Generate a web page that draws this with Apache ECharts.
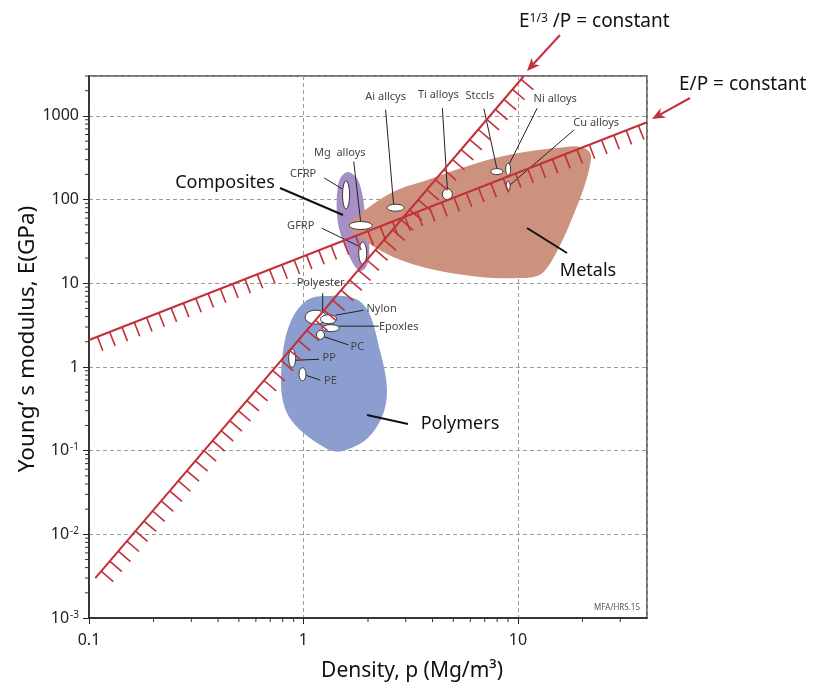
<!DOCTYPE html>
<html>
<head>
<meta charset="utf-8">
<script src="https://cdn.jsdelivr.net/npm/echarts@6/dist/echarts.min.js"></script>
<style>
  html, body { margin: 0; padding: 0; background: #fff; }
  #chart { width: 814px; height: 686px; }
</style>
</head>
<body>
<div id="chart"></div>
<script>
// axis ranges (log scales) and tick labels
const xMin = 0.1, xMax = 40;
const yMin = 0.001, yMax = 3000;
const xTickLabels = ['0.1', '1', '10'];                                        // 10^-1 .. 10^1
const yTickLabels = ['10{s|-3}', '10{s|-2}', '10{s|-1}', '1', '10', '100', '1000']; // 10^-3 .. 10^3

// material family envelopes (density Mg/m3, modulus GPa)
const compositesDensity = [1.605, 1.77, 1.87, 1.93, 1.99, 2.03, 1.99, 1.87, 1.73, 1.59, 1.47, 1.43, 1.44, 1.49];
const compositesModulus = [214, 182, 124, 75.3, 43.5, 25.1, 17.1, 14.1, 16.1, 25.1, 43.5, 75.3, 131, 182];

const metalsDensity = [1.61, 1.85, 2.64, 3.78, 5.42, 7.74, 11.1, 15.9, 19.0, 21.5, 21.9, 20.4, 18.3, 15.9, 13.8, 12.4, 9.6, 6.48, 4.06, 2.84, 2.13, 1.75];
const metalsModulus = [49, 68.8, 125, 172, 237, 312, 375, 418, 430, 375, 298, 143, 68.8, 30.1, 15.8, 12.3, 11.5, 12.0, 14.5, 19.0, 27.4, 39.7];

const polymersDensity = [1.08, 1.34, 1.66, 1.88, 2.06, 2.25, 2.42, 2.44, 2.29, 1.99, 1.66, 1.41, 1.20, 1.0, 0.854, 0.795, 0.787, 0.809, 0.854, 0.935];
const polymersModulus = [6.64, 7.07, 6.83, 5.78, 4.0, 1.75, 0.77, 0.405, 0.233, 0.141, 0.107, 0.0975, 0.117, 0.162, 0.255, 0.443, 0.843, 1.75, 3.04, 4.81];

// individual materials
const materialNames = ['CFRP', 'Mg  alloys', 'GFRP', 'Ai allcys', 'Ti alloys', 'Stccls', 'Ni alloys', 'Cu alloys',
                       'Polyester', 'Nylon', 'Epoxles', 'PC', 'PP', 'PE'];
const materialDensity = [1.58, 1.85, 1.89, 2.69, 4.69, 7.98, 9.01, 9.01, 1.14, 1.31, 1.34, 1.20, 0.886, 0.99];
const materialModulus = [114, 49, 22.9, 80, 116, 216, 231, 146, 3.94, 3.72, 2.91, 2.42, 1.27, 0.82];

// guide lines: E/p = const and E^(1/3)/p = const (end points)
const linearGuideDensity = [0.1, 40];
const linearGuideModulus = [2.1, 840];
const cubeGuideDensity = [0.107, 10.67];
const cubeGuideModulus = [0.003, 3000];

// ---- styling / layout (pixels) ----
const RED = '#C2303B';
const FONT = 'Noto Sans';
// per material: ellipse size [w,h], label offset [dx,dy], leader [x1,y1,x2,y2] relative to centre
const materialLayout = [
  { size: [7, 28],  label: [-43, -21], lead: [-22, -17, -4, -6] },   // CFRP
  { size: [23, 8],  label: [-21, -73], lead: [-7, -64, 0, -3] },     // Mg
  { size: [8, 22],  label: [-62, -27], lead: [-41, -25, -4, -7] },   // GFRP
  { size: [17, 7],  label: [-10, -111], lead: [-10, -98, -2, -3] },  // Al
  { size: [10, 11], label: [-9, -99], lead: [-5, -86, 0, -5] },      // Ti
  { size: [12, 6],  label: [-17, -76], lead: [-13, -63, 0, -3] },    // Steels
  { size: [5, 12],  label: [47, -70], lead: [29, -61, 1, -5] },      // Ni
  { size: [4, 9],   label: [88, -63], lead: [66, -56, 2, -1] },      // Cu
  { size: [21, 14], label: [5, -34], lead: [7, -24, 7, -6] },        // Polyester
  { size: [16, 9],  label: [53, -10], lead: [35, -9, 7, -4] },       // Nylon
  { size: [17, 7],  label: [68, -1], lead: [48, -2, 8, -2] },        // Epoxies
  { size: [8, 9],   label: [37, 12], lead: [28, 10, 4, 2] },         // PC
  { size: [7, 18],  label: [37, 0], lead: [27, 1, 3, 2] },           // PP
  { size: [7, 13],  label: [28, 7], lead: [18, 6, 3, 1] }            // PE
];

// minor tick positions (2..9 of every decade)
const xMinor = [], yMinor = [];
[0.1, 1, 10].forEach(d => { for (let k = 2; k <= 9; k++) if (d * k < xMax) xMinor.push(d * k); });
[0.001, 0.01, 0.1, 1, 10, 100, 1000].forEach(d => { for (let k = 2; k <= 9; k++) if (d * k <= yMax) yMinor.push(d * k); });

function decade(v) {
  const e = Math.log10(v), r = Math.round(e);
  return Math.abs(e - r) < 1e-6 ? r : null;
}

function regionSeries(dens, mods, color, z) {
  return {
    type: 'custom', silent: true, z: z, clip: true,
    data: dens.map((d, i) => [d, mods[i]]),
    renderItem: function (params, api) {
      if (params.dataIndex !== 0) return null;
      const pts = dens.map((d, i) => api.coord([d, mods[i]]));
      return { type: 'polygon', shape: { points: pts, smooth: 0.35 }, style: { fill: color } };
    }
  };
}

function guideSeries(dens, mods, tickLen) {
  return {
    type: 'custom', silent: true, z: 6, clip: false,
    data: [[dens[0], mods[0], dens[1], mods[1]]],
    encode: { x: [0, 2], y: [1, 3] },
    renderItem: function (params, api) {
      const a = api.coord([api.value(0), api.value(1)]);
      const b = api.coord([api.value(2), api.value(3)]);
      const dx = b[0] - a[0], dy = b[1] - a[1], L = Math.hypot(dx, dy);
      const ux = dx / L, uy = dy / L, nx = -uy, ny = ux;
      const children = [{ type: 'line', shape: { x1: a[0], y1: a[1], x2: b[0], y2: b[1] },
                          style: { stroke: RED, lineWidth: 2 } }];
      for (let s = 9; s < L - 2; s += 13.2) {
        const px = a[0] + ux * s, py = a[1] + uy * s;
        children.push({ type: 'line', shape: { x1: px, y1: py, x2: px + nx * tickLen, y2: py + ny * tickLen },
                        style: { stroke: RED, lineWidth: 1.6 } });
      }
      return { type: 'group', children: children };
    }
  };
}

function arrow(x1, y1, x2, y2) {
  const ang = Math.atan2(y2 - y1, x2 - x1), len = 13, w = 5.5;
  const bx = x2 - Math.cos(ang) * len, by = y2 - Math.sin(ang) * len;
  const px = -Math.sin(ang) * w, py = Math.cos(ang) * w;
  const nx = x2 - Math.cos(ang) * len * 0.7, ny = y2 - Math.sin(ang) * len * 0.7;
  return [
    { type: 'line', z: 100, shape: { x1: x1, y1: y1, x2: nx, y2: ny }, style: { stroke: RED, lineWidth: 2 } },
    { type: 'polygon', z: 100, shape: { points: [[x2, y2], [bx + px, by + py], [nx, ny], [bx - px, by - py]] }, style: { fill: RED } }
  ];
}

function groupLabel(text, x, y, lx1, ly1, lx2, ly2) {
  return [
    { type: 'line', z: 100, shape: { x1: lx1, y1: ly1, x2: lx2, y2: ly2 }, style: { stroke: '#111', lineWidth: 2 } },
    { type: 'text', z: 100, x: x, y: y, style: { text: text, font: '18px "' + FONT + '"', fill: '#111', align: 'center', verticalAlign: 'middle' } }
  ];
}

const chart = echarts.init(document.getElementById('chart'));

const option = {
  animation: false,
  grid: { left: 89, right: 167, top: 76, bottom: 68, show: true, borderColor: '#444', borderWidth: 1.5, backgroundColor: 'transparent' },
  xAxis: {
    type: 'log', logBase: 10, min: xMin, max: xMax,
    axisLine: { lineStyle: { color: '#222', width: 1.5 } },
    axisTick: { show: true, length: 6, lineStyle: { color: '#222' } },
    axisLabel: {
      margin: 14, fontSize: 16, fontFamily: FONT, color: '#222', showMaxLabel: false,
      formatter: v => { const e = decade(v); return e === null ? '' : (xTickLabels[e + 1] || ''); }
    },
    splitLine: { show: true, lineStyle: { color: '#9a9a9a', type: [4, 3], width: 1 } }
  },
  yAxis: {
    type: 'log', logBase: 10, min: yMin, max: yMax,
    axisLine: { lineStyle: { color: '#222', width: 1.5 } },
    axisTick: { show: true, length: 6, lineStyle: { color: '#222' } },
    axisLabel: {
      margin: 10, fontSize: 16, fontFamily: FONT, color: '#222', showMaxLabel: false,
      formatter: v => { const e = decade(v); return e === null ? '' : (yTickLabels[e + 3] || ''); },
      rich: {
        s: { fontSize: 10, fontFamily: FONT, color: '#222', verticalAlign: 'top', padding: [0, 0, 0, 1] }
      }
    },
    splitLine: { show: true, lineStyle: { color: '#9a9a9a', type: [4, 3], width: 1 } }
  },
  series: [
    regionSeries(compositesDensity, compositesModulus, '#A68FC6', 2),
    regionSeries(metalsDensity, metalsModulus, '#CC927D', 3),
    regionSeries(polymersDensity, polymersModulus, '#8C9ECF', 4),
    {
      // material bubbles with labels and leader lines
      type: 'custom', silent: true, z: 5, clip: false,
      data: materialDensity.map((d, i) => [d, materialModulus[i]]),
      renderItem: function (params, api) {
        const i = params.dataIndex, lay = materialLayout[i];
        const c = api.coord([api.value(0), api.value(1)]);
        return {
          type: 'group',
          children: [
            { type: 'line', shape: { x1: c[0] + lay.lead[0], y1: c[1] + lay.lead[1], x2: c[0] + lay.lead[2], y2: c[1] + lay.lead[3] },
              style: { stroke: '#222', lineWidth: 1 } },
            { type: 'ellipse', shape: { cx: c[0], cy: c[1], rx: lay.size[0] / 2, ry: lay.size[1] / 2 },
              style: { fill: '#fff', stroke: '#333', lineWidth: 1 } },
            { type: 'text', x: c[0] + lay.label[0], y: c[1] + lay.label[1],
              style: { text: materialNames[i], font: '11px "' + FONT + '"', fill: '#444', align: 'center', verticalAlign: 'middle' } }
          ]
        };
      }
    },
    guideSeries(linearGuideDensity, linearGuideModulus, 15),
    guideSeries(cubeGuideDensity, cubeGuideModulus, 16),
    {
      // minor ticks on x axis
      type: 'custom', silent: true, clip: false, z: 7,
      data: xMinor.map(v => [v, yMin]),
      renderItem: function (params, api) {
        const p = api.coord([api.value(0), api.value(1)]);
        return { type: 'line', shape: { x1: p[0], y1: p[1], x2: p[0], y2: p[1] + 4 }, style: { stroke: '#333', lineWidth: 1 } };
      }
    },
    {
      // minor ticks on y axis
      type: 'custom', silent: true, clip: false, z: 7,
      data: yMinor.map(v => [xMin, v]),
      renderItem: function (params, api) {
        const p = api.coord([api.value(0), api.value(1)]);
        return { type: 'line', shape: { x1: p[0] - 4, y1: p[1], x2: p[0], y2: p[1] }, style: { stroke: '#333', lineWidth: 1 } };
      }
    }
  ],
  graphic: [
    // axis titles
    { type: 'text', z: 100, x: 28, y: 339, rotation: Math.PI / 2,
      style: { text: 'Young’ s modulus, E(GPa)', font: '22.5px "' + FONT + '"', fill: '#111', align: 'center', verticalAlign: 'middle' } },
    { type: 'text', z: 100, x: 412, y: 671,
      style: { text: 'Density, p (Mg/m³)', font: '21px "' + FONT + '"', fill: '#111', align: 'center', verticalAlign: 'middle' } },
    // family labels
    ...groupLabel('Composites', 225, 183, 280, 188, 343, 215),
    ...groupLabel('Metals', 588, 271, 527, 228, 567, 253),
    ...groupLabel('Polymers', 460, 424, 367, 415, 408, 424),
    // guide line captions
    { type: 'text', z: 100, x: 519, y: 22,
      style: { text: 'E{s|1/3} /P = constant', font: '19px "' + FONT + '"', fill: '#111', align: 'left', verticalAlign: 'middle',
               rich: { s: { fontSize: 12, fontFamily: FONT, verticalAlign: 'top', fill: '#111' } } } },
    ...arrow(560, 35, 527, 71),
    { type: 'text', z: 100, x: 679, y: 85,
      style: { text: 'E/P = constant', font: '19px "' + FONT + '"', fill: '#111', align: 'left', verticalAlign: 'middle' } },
    ...arrow(690, 98, 652, 119),
    // source tag
    { type: 'text', z: 100, x: 640, y: 608,
      style: { text: 'MFA/HRS.15', font: '8px "' + FONT + '"', fill: '#555', align: 'right', verticalAlign: 'middle' } }
  ]
};

chart.setOption(option);
</script>
</body>
</html>
